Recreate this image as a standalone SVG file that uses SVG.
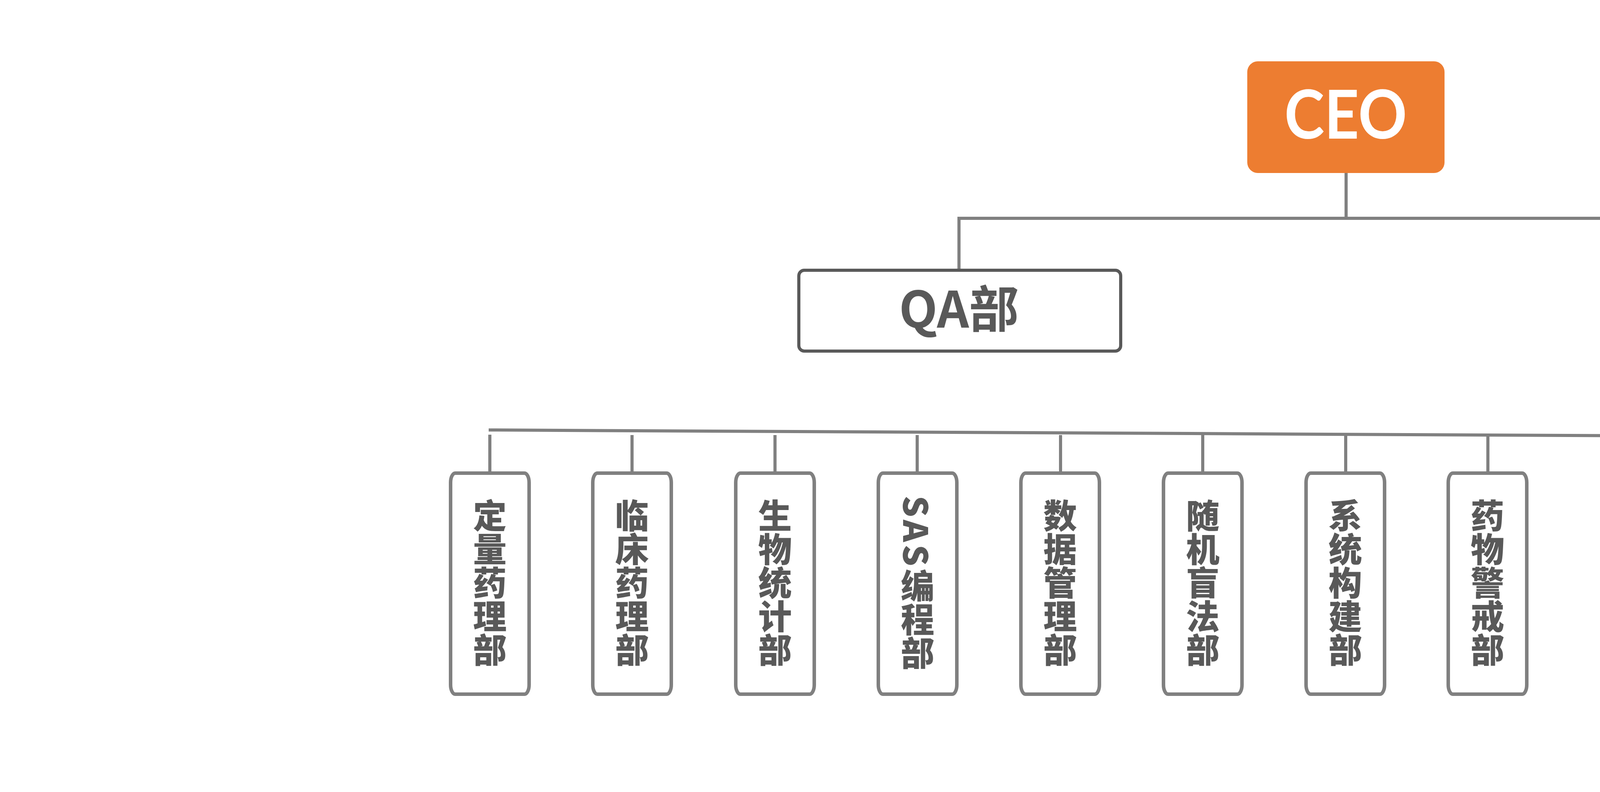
<svg xmlns="http://www.w3.org/2000/svg" width="7086" height="2028" viewBox="0 0 7086 2028">
<style>
.conn{stroke:#808080;stroke-width:8;fill:none}
.dept rect{fill:#ffffff;stroke:#808080;stroke-width:9}
.vt{font-family:"Noto Sans CJK SC","Noto Sans",sans-serif;font-weight:900;font-size:86px;fill:#595959;writing-mode:vertical-rl;text-anchor:middle}
</style>
<rect width="7086" height="2028" fill="#ffffff"/>
<g id="connectors">
<line class="conn" x1="3446" y1="443" x2="3446" y2="559"/>
<polyline class="conn" points="2455,688 2455,559 4431,559 4431,1116"/>
<line class="conn" x1="1251" y1="1101" x2="5984" y2="1125"/>
<line class="conn" x1="1254" y1="1113" x2="1254" y2="1210"/>
<line class="conn" x1="1618" y1="1114" x2="1618" y2="1210"/>
<line class="conn" x1="1984" y1="1114" x2="1984" y2="1210"/>
<line class="conn" x1="2348" y1="1114" x2="2348" y2="1210"/>
<line class="conn" x1="2715" y1="1114" x2="2715" y2="1210"/>
<line class="conn" x1="3079" y1="1114" x2="3079" y2="1210"/>
<line class="conn" x1="3445" y1="1116" x2="3445" y2="1210"/>
<line class="conn" x1="3809" y1="1116" x2="3809" y2="1210"/>
<line class="conn" x1="4176" y1="1119" x2="4176" y2="1213"/>
<line class="conn" x1="4540" y1="1121" x2="4540" y2="1217"/>
<line class="conn" x1="4912" y1="1124" x2="4912" y2="1217"/>
<line class="conn" x1="5271" y1="1114" x2="5271" y2="1213"/>
<line class="conn" x1="5640" y1="1118" x2="5640" y2="1217"/>
<line class="conn" x1="5984" y1="1134" x2="5984" y2="1234"/>
</g>
<g id="ceo">
<rect x="3193" y="157" width="505" height="286" rx="27" fill="#ED7D31"/>
<text x="3445" y="355" font-family="Lato,'Open Sans',sans-serif" font-weight="bold" font-size="172" fill="#ffffff" text-anchor="middle" textLength="314" lengthAdjust="spacingAndGlyphs">CEO</text>
</g>
<g id="qa">
<rect x="2045" y="692" width="824" height="207" rx="14" fill="#ffffff" stroke="#595959" stroke-width="8"/>
<text x="2455" y="839" font-family="'Noto Sans CJK SC','Noto Sans',sans-serif" font-weight="bold" font-size="128" fill="#595959" text-anchor="middle">QA部</text>
</g>
<g id="d1" class="dept"><rect x="1153.5" y="1211.5" width="201" height="566" rx="12" ry="24"/><text class="vt" x="1254" y="1492">定量药理部</text></g>
<g id="d2" class="dept"><rect x="1517.5" y="1211.5" width="201" height="566" rx="12" ry="24"/><text class="vt" x="1618" y="1492">临床药理部</text></g>
<g id="d3" class="dept"><rect x="1883.5" y="1211.5" width="201" height="566" rx="12" ry="24"/><text class="vt" x="1984" y="1492">生物统计部</text></g>
<g id="d4" class="dept"><rect x="2248.5" y="1211.5" width="201" height="566" rx="12" ry="24"/><text class="vt" x="2349" y="1492"><tspan letter-spacing="7">SAS</tspan>编程部</text></g>
<g id="d5" class="dept"><rect x="2613.5" y="1211.5" width="201" height="566" rx="12" ry="24"/><text class="vt" x="2714" y="1492">数据管理部</text></g>
<g id="d6" class="dept"><rect x="2978.5" y="1211.5" width="201" height="566" rx="12" ry="24"/><text class="vt" x="3079" y="1492">随机盲法部</text></g>
<g id="d7" class="dept"><rect x="3343.5" y="1211.5" width="201" height="566" rx="12" ry="24"/><text class="vt" x="3444" y="1492">系统构建部</text></g>
<g id="d8" class="dept"><rect x="3707.5" y="1211.5" width="201" height="566" rx="12" ry="24"/><text class="vt" x="3808" y="1492">药物警戒部</text></g>
<g id="d9" class="dept"><rect x="4101.5" y="1230.5" width="201" height="562" rx="12" ry="24"/><text class="vt" x="4202" y="1519">eTrial研发部</text></g>
<g id="d10" class="dept"><rect x="4438.5" y="1213.5" width="201" height="563" rx="12" ry="24"/><text class="vt" x="4539" y="1523"><tspan letter-spacing="4">MaS</tspan>研发部</text></g>
<g id="d11" class="dept"><rect x="4803.5" y="1225.5" width="201" height="562" rx="12" ry="24"/><text class="vt" x="4904" y="1425">IT部</text></g>
<g id="d12" class="dept"><rect x="5169.5" y="1224.5" width="201" height="563" rx="12" ry="24"/><text class="vt" x="5270" y="1451">商务部</text></g>
<g id="d13" class="dept"><rect x="5534.5" y="1225.5" width="201" height="562" rx="12" ry="24"/><text class="vt" x="5635" y="1449">法务部</text></g>
<g id="d14" class="dept"><rect x="5897.5" y="1227.5" width="201" height="564" rx="12" ry="24"/><text class="vt" x="5998" y="1515">综合管理部</text></g>
</svg>
